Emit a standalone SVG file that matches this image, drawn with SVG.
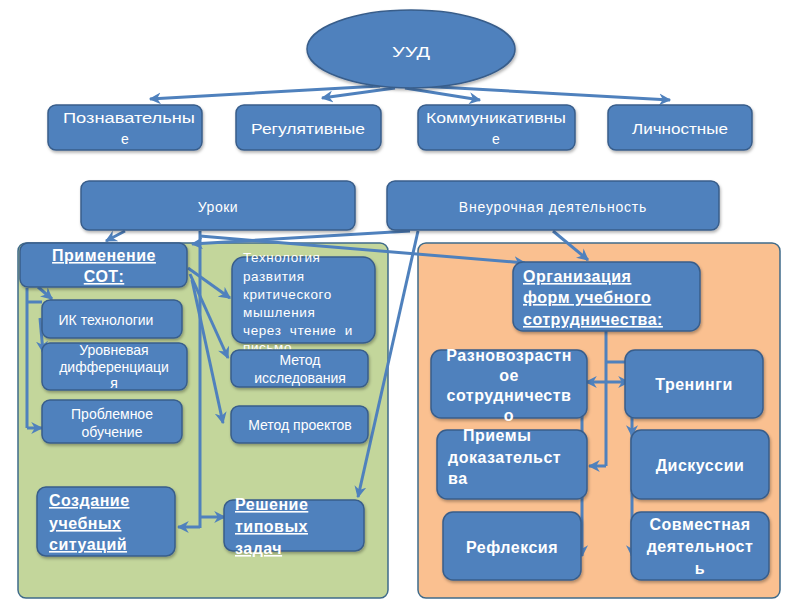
<svg xmlns="http://www.w3.org/2000/svg" width="800" height="600" viewBox="0 0 800 600">
<defs>
<marker id="ah" viewBox="0 0 10 10" refX="9" refY="5" markerWidth="4" markerHeight="4" orient="auto" markerUnits="strokeWidth"><path d="M0,0 L10,5 L0,10 L3,5 Z" fill="#4f81bd"/></marker>
<filter id="sh" x="-10%" y="-10%" width="130%" height="140%"><feDropShadow dx="1" dy="2" stdDeviation="1.5" flood-color="#000" flood-opacity="0.3"/></filter>
</defs>
<style>
.b{fill:#4f81bd;stroke:#385d8a;stroke-width:1.5;filter:url(#sh)}
.t{font-family:"Liberation Sans",Arial,sans-serif;fill:#fff;font-size:14px;text-anchor:middle}
.bt{font-family:"Liberation Sans",Arial,sans-serif;fill:#fff;font-size:16px;font-weight:bold;letter-spacing:0.5px}
.u{text-decoration:underline}
.c{fill:none;stroke:#4f81bd;stroke-width:3}
.ca{fill:none;stroke:#4f81bd;stroke-width:3;marker-end:url(#ah)}
</style>
<rect width="800" height="600" fill="#fff"/>
<g id="panels">
<rect x="18" y="243" width="370" height="355" rx="8" fill="#c3d69b" stroke="#3f6b8a" stroke-width="1.5"/>
<rect x="418" y="243" width="362" height="355" rx="8" fill="#fac090" stroke="#3f6b8a" stroke-width="1.5"/>
</g>
<g id="connectors">
<path class="ca" d="M380,86 L150,99"/>
<path class="ca" d="M395,88 L322,98"/>
<path class="ca" d="M405,88 L480,100"/>
<path class="ca" d="M420,86 L670,100"/>
<path class="ca" d="M125,231 L106,241"/>
<path class="c" d="M200,231 L200,528"/>
<path class="ca" d="M200,517 L225,517"/>
<path class="ca" d="M200,527 L178,527"/>
<path class="ca" d="M200,236 L525,263"/>
<path class="ca" d="M410,231 L192,244"/>
<path class="ca" d="M418,231 L358,497"/>
<path class="ca" d="M553,231 L588,260"/>
<path class="ca" d="M188,268 L230,298"/>
<path class="ca" d="M190,274 L228,358"/>
<path class="ca" d="M192,280 L223,423"/>
<path class="ca" d="M38,287 L52,299"/>
<path class="c" d="M27,288 L27,428"/>
<path class="ca" d="M27,428 L42,428"/>
<path class="c" d="M27,302 L42,302"/>
<path class="ca" d="M40,318 L43,352"/>
<path class="c" d="M606,331 L606,466"/>
<path class="ca" d="M606,466 L589,466"/>
<path class="c" d="M606,362 L632,362"/>
<path class="ca" d="M606,382 L629,382"/>
<path class="ca" d="M606,382 L586,382"/>
<path class="ca" d="M582,380 L582,556"/>
<path class="ca" d="M632,362 L632,436"/>
<path class="ca" d="M632,436 L632,556"/>
</g>
<g id="n-uud"><ellipse class="b" cx="411" cy="49" rx="104" ry="39"/><text class="t" x="411" y="57" font-size="21" textLength="38" lengthAdjust="spacingAndGlyphs">УУД</text></g>
<g id="n-pozn"><rect class="b" x="48" y="105" width="154" height="45" rx="8"/><text class="t" x="129" y="123" font-size="16" textLength="132" lengthAdjust="spacingAndGlyphs">Познавательны</text><text class="t" x="125" y="144" font-size="16">е</text></g>
<g id="n-reg"><rect class="b" x="236" y="105" width="145" height="45" rx="8"/><text class="t" x="308" y="134" font-size="16" textLength="114" lengthAdjust="spacingAndGlyphs">Регулятивные</text></g>
<g id="n-komm"><rect class="b" x="418" y="105" width="157" height="45" rx="8"/><text class="t" x="496" y="123" font-size="16" textLength="140" lengthAdjust="spacingAndGlyphs">Коммуникативны</text><text class="t" x="496" y="144" font-size="16">е</text></g>
<g id="n-lich"><rect class="b" x="608" y="105" width="144" height="45" rx="8"/><text class="t" x="680" y="134" font-size="16" textLength="96" lengthAdjust="spacingAndGlyphs">Личностные</text></g>
<g id="n-uroki"><rect class="b" x="81" y="181" width="274" height="49" rx="8"/><text class="t" x="218" y="212" font-size="17" letter-spacing="0.5">Уроки</text></g>
<g id="n-vneur"><rect class="b" x="387" y="181" width="332" height="49" rx="8"/><text class="t" x="553" y="212" font-size="17" letter-spacing="0.8">Внеурочная деятельность</text></g>
<g id="n-sot"><rect class="b" x="20" y="243" width="167" height="44" rx="8"/><text class="bt u" x="104" y="261" text-anchor="middle">Применение</text><text class="bt u" x="104" y="282" text-anchor="middle">СОТ:</text></g>
<g id="n-ik"><rect class="b" x="42" y="300" width="140" height="38" rx="8"/><text class="t" x="106" y="325" font-size="14.5">ИК технологии</text></g>
<g id="n-urov"><rect class="b" x="42" y="343" width="145" height="47" rx="8"/><text class="t" x="114" y="355" font-size="14.5">Уровневая</text><text class="t" x="114" y="372" font-size="14.5">дифференциаци</text><text class="t" x="114" y="388" font-size="14.5">я</text></g>
<g id="n-probl"><rect class="b" x="42" y="400" width="140" height="43" rx="8"/><text class="t" x="112" y="419" font-size="14">Проблемное</text><text class="t" x="112" y="437" font-size="14">обучение</text></g>
<g id="n-sozd"><rect class="b" x="37" y="487" width="138" height="69" rx="9"/><text class="bt u" x="49" y="506">Создание</text><text class="bt u" x="49" y="529">учебных</text><text class="bt u" x="49" y="550">ситуаций</text></g>
<g id="n-tech"><rect class="b" x="232" y="257" width="143" height="86" rx="12"/><g class="t" style="text-anchor:start;font-size:13.5px;letter-spacing:0.6px"><text x="243" y="262">Технология</text><text x="243" y="281">развития</text><text x="243" y="299">критического</text><text x="243" y="317">мышления</text><text x="243" y="335" word-spacing="4">через чтение и</text><text x="243" y="352">письмо</text></g></g>
<g id="n-issl"><rect class="b" x="231" y="350" width="137" height="37" rx="8"/><text class="t" x="300" y="365" font-size="14">Метод</text><text class="t" x="300" y="383" font-size="14">исследования</text></g>
<g id="n-proekt"><rect class="b" x="231" y="406" width="137" height="37" rx="8"/><text class="t" x="300" y="430" font-size="14">Метод проектов</text></g>
<g id="n-resh"><rect class="b" x="224" y="500" width="140" height="51" rx="9"/><text class="bt u" x="235" y="510">Решение</text><text class="bt u" x="235" y="532">типовых</text><text class="bt u" x="235" y="554">задач</text></g>
<g id="n-org"><rect class="b" x="513" y="262" width="187" height="69" rx="10"/><text class="bt u" x="523" y="282">Организация</text><text class="bt u" x="523" y="303">форм учебного</text><text class="bt u" x="523" y="325">сотрудничества:</text></g>
<g id="n-razn"><rect class="b" x="431" y="350" width="156" height="68" rx="10"/><g class="bt" text-anchor="middle" font-size="15.5"><text x="509" y="361">Разновозрастн</text><text x="509" y="381">ое</text><text x="509" y="401">сотрудничеств</text><text x="509" y="421">о</text></g></g>
<g id="n-tren"><rect class="b" x="625" y="350" width="138" height="68" rx="10"/><text class="bt" x="694" y="390" text-anchor="middle" font-size="16.5">Тренинги</text></g>
<g id="n-priem"><rect class="b" x="437" y="430" width="150" height="69" rx="10"/><g class="bt" font-size="15.5"><text x="463" y="441">Приемы</text><text x="448" y="463">доказательст</text><text x="448" y="484">ва</text></g></g>
<g id="n-disk"><rect class="b" x="631" y="430" width="138" height="69" rx="10"/><text class="bt" x="700" y="471" text-anchor="middle" font-size="16.5">Дискуссии</text></g>
<g id="n-refl"><rect class="b" x="443" y="512" width="138" height="68" rx="10"/><text class="bt" x="512" y="553" text-anchor="middle" font-size="16.5">Рефлексия</text></g>
<g id="n-sovm"><rect class="b" x="631" y="512" width="138" height="68" rx="10"/><g class="bt" text-anchor="middle" font-size="15.5"><text x="700" y="530">Совместная</text><text x="700" y="552">деятельност</text><text x="700" y="574">ь</text></g></g>
</svg>
